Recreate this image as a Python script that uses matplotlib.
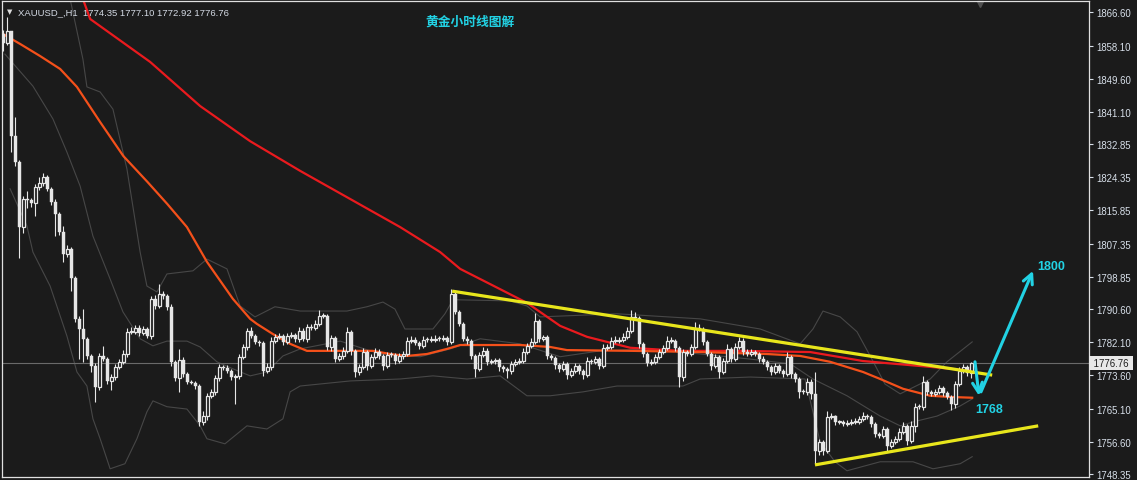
import numpy as np
import matplotlib
matplotlib.use('Agg')
import matplotlib.pyplot as plt
from matplotlib.transforms import blended_transform_factory

# ---- data (XAUUSD H1) ----
first_open = 1861.0
closes = [
    1858.7, 1861.8, 1834.9, 1828.3, 1811.6, 1818.8, 1818.5, 1817.8, 1821.9, 1822.9,
    1824.4, 1821.4, 1818.0, 1815.0, 1810.4, 1804.7, 1806.0, 1798.6, 1788.1, 1785.5,
    1783.0, 1778.6, 1776.0, 1770.7, 1778.6, 1777.8, 1772.2, 1773.2, 1775.8, 1777.1,
    1779.1, 1784.8, 1784.8, 1785.8, 1784.5, 1785.5, 1783.7, 1793.2, 1791.4, 1794.5,
    1794.0, 1791.2, 1777.1, 1773.0, 1777.6, 1774.0, 1772.0, 1771.8, 1770.9, 1761.7,
    1763.2, 1768.4, 1769.4, 1773.0, 1775.8, 1775.6, 1774.8, 1773.2, 1773.5, 1778.4,
    1780.9, 1785.0, 1783.7, 1782.2, 1782.0, 1774.8, 1775.8, 1782.4, 1783.5, 1783.7,
    1782.2, 1783.7, 1784.0, 1783.0, 1785.0, 1783.0, 1786.0, 1785.8, 1786.8, 1788.8,
    1788.9, 1780.9, 1783.2, 1777.8, 1778.6, 1779.9, 1784.8, 1779.9, 1774.5, 1775.8,
    1779.6, 1776.0, 1778.4, 1779.6, 1778.6, 1776.0, 1778.9, 1778.8, 1777.3, 1778.6,
    1779.1, 1782.4, 1782.7, 1781.9, 1781.2, 1782.7, 1782.6, 1782.8, 1783.0, 1782.9,
    1783.1, 1782.2, 1794.5, 1789.9, 1786.8, 1783.0, 1782.4, 1778.6, 1775.3, 1778.9,
    1779.9, 1777.1, 1777.3, 1777.6, 1775.8, 1775.3, 1774.8, 1776.6, 1777.1, 1777.3,
    1779.6, 1781.2, 1782.2, 1787.6, 1783.0, 1783.5, 1778.6, 1778.1, 1776.3, 1775.3,
    1776.6, 1773.7, 1774.8, 1776.0, 1774.8, 1773.7, 1777.3, 1777.1, 1777.8, 1776.0,
    1780.7, 1780.9, 1782.4, 1782.5, 1782.7, 1783.5, 1785.0, 1788.6, 1788.3, 1781.7,
    1779.1, 1776.8, 1777.1, 1778.4, 1779.6, 1780.7, 1782.4, 1782.5, 1780.7, 1773.2,
    1779.6, 1779.1, 1780.9, 1785.8, 1785.5, 1782.2, 1779.1, 1776.0, 1778.4, 1774.5,
    1777.3, 1780.4, 1777.8, 1780.9, 1782.4, 1779.6, 1779.1, 1779.6, 1779.1, 1777.8,
    1777.1, 1775.8, 1774.5, 1776.0, 1774.8, 1774.0, 1778.4, 1774.0, 1772.7, 1769.4,
    1769.3, 1772.0, 1768.9, 1754.3, 1756.6, 1754.3, 1763.0, 1763.1, 1761.7, 1761.8,
    1761.2, 1761.5, 1761.7, 1761.8, 1762.5, 1763.2, 1763.0, 1761.2, 1758.6, 1758.1,
    1759.9, 1755.6, 1756.6, 1757.4, 1759.2, 1760.7, 1756.8, 1760.7, 1765.6, 1765.5,
    1772.0, 1769.4, 1768.9, 1769.4, 1770.4, 1769.1, 1768.1, 1766.3, 1771.4, 1774.8,
    1775.8, 1774.35, 1776.76]

upper_wick = [
    1.0, 3.6, 0.0, 5.0, 0.5, 0.8, 2.0, 0.5, 0.8, 1.5,
    1.0, 0.5, 0.5, 0.8, 0.5, 1.5, 1.0, 0.5, 0.5, 0.8,
    5.0, 0.5, 0.5, 0.8, 0.8, 2.5, 0.5, 0.8, 0.8, 0.8,
    1.0, 1.0, 1.2, 0.8, 0.8, 0.8, 0.5, 0.8, 1.0, 2.6,
    0.8, 0.5, 0.8, 0.5, 2.8, 0.8, 0.5, 0.5, 0.5, 0.5,
    1.2, 0.8, 0.8, 0.8, 0.8, 0.5, 0.8, 0.5, 0.5, 0.8,
    0.8, 0.8, 1.0, 0.5, 0.5, 0.5, 1.0, 1.0, 0.8, 0.8,
    0.5, 0.8, 0.8, 0.5, 1.0, 0.8, 0.8, 0.8, 1.0, 1.5,
    0.8, 0.5, 0.8, 0.5, 0.8, 1.0, 1.2, 0.5, 0.5, 0.8,
    1.0, 0.5, 0.8, 1.0, 0.8, 0.5, 0.8, 0.8, 0.5, 0.8,
    0.8, 1.0, 1.0, 0.8, 0.5, 1.0, 0.8, 0.8, 1.0, 0.8,
    0.8, 0.5, 1.3, 0.5, 0.5, 0.5, 0.8, 0.5, 0.5, 0.8,
    1.0, 0.8, 0.5, 0.5, 0.5, 0.5, 0.5, 0.8, 0.8, 0.8,
    1.0, 0.8, 1.0, 2.0, 0.5, 0.5, 0.5, 0.5, 0.5, 0.5,
    0.8, 0.5, 0.8, 0.8, 0.5, 0.5, 1.0, 0.5, 0.8, 0.5,
    1.0, 0.8, 1.0, 1.2, 0.8, 1.0, 1.0, 1.8, 1.2, 0.5,
    0.5, 0.5, 0.8, 0.8, 0.8, 0.8, 1.2, 1.0, 0.5, 0.5,
    0.8, 0.5, 0.8, 1.5, 1.0, 0.5, 0.5, 0.5, 0.8, 0.5,
    0.8, 1.2, 0.5, 1.0, 1.0, 0.8, 0.8, 0.8, 0.5, 0.5,
    0.8, 0.5, 0.5, 0.8, 0.5, 0.5, 1.2, 0.5, 0.5, 0.5,
    0.8, 1.0, 0.8, 5.6, 0.8, 0.5, 1.5, 0.8, 0.5, 0.5,
    0.5, 0.8, 0.8, 0.8, 0.8, 1.0, 0.5, 0.5, 0.5, 0.5,
    0.8, 0.5, 0.8, 0.8, 1.0, 1.0, 0.5, 1.2, 1.0, 0.8,
    1.5, 0.5, 0.5, 0.8, 0.8, 0.5, 0.5, 0.5, 0.8, 1.0,
    0.8, 0.5, 0.34]

lower_wick = [
    2.0, 0.5, 4.0, 1.0, 8.0, 1.5, 2.0, 1.0, 3.3, 0.8,
    0.8, 0.5, 0.8, 5.6, 0.8, 2.0, 0.8, 3.3, 0.8, 7.7,
    6.0, 0.8, 1.5, 3.8, 0.8, 0.5, 0.8, 2.3, 0.8, 0.5,
    0.5, 0.8, 0.5, 0.5, 0.8, 0.5, 0.5, 0.8, 0.8, 0.5,
    0.8, 0.8, 1.0, 0.8, 3.6, 0.8, 0.5, 0.5, 0.8, 1.0,
    0.8, 1.0, 0.5, 0.8, 0.8, 0.5, 0.5, 0.8, 7.0, 0.8,
    0.5, 0.8, 0.5, 0.5, 0.8, 1.3, 0.5, 0.8, 0.5, 0.5,
    0.8, 0.5, 0.5, 0.8, 0.8, 0.5, 0.8, 0.5, 0.5, 0.5,
    0.5, 0.8, 1.0, 0.8, 0.5, 0.8, 0.5, 1.0, 1.3, 0.8,
    0.5, 1.0, 0.5, 0.5, 0.8, 1.0, 0.5, 0.5, 0.8, 0.5,
    0.8, 0.5, 0.5, 0.5, 0.8, 0.5, 0.5, 0.5, 0.5, 0.5,
    0.5, 0.8, 0.5, 0.5, 0.5, 0.5, 0.8, 0.8, 2.0, 0.5,
    0.5, 0.8, 0.5, 0.8, 1.0, 0.8, 1.8, 0.8, 0.5, 0.5,
    0.5, 0.5, 0.5, 0.5, 0.8, 0.5, 0.8, 0.5, 1.0, 0.8,
    0.5, 1.0, 0.5, 0.5, 0.8, 1.0, 0.5, 0.5, 0.5, 0.8,
    0.5, 0.5, 0.5, 0.5, 0.5, 0.5, 0.5, 0.5, 0.5, 1.0,
    0.8, 0.8, 0.5, 0.5, 0.5, 0.5, 0.5, 0.5, 0.8, 2.6,
    1.0, 0.5, 0.5, 0.5, 0.5, 0.8, 0.5, 1.0, 0.5, 1.5,
    0.5, 0.5, 0.8, 0.5, 0.5, 0.8, 0.5, 0.5, 0.5, 0.8,
    0.5, 0.8, 0.8, 0.5, 0.5, 0.8, 0.5, 1.0, 0.8, 1.5,
    0.5, 0.8, 1.2, 3.3, 1.0, 1.0, 0.5, 0.5, 0.8, 0.5,
    0.5, 0.5, 0.5, 0.5, 0.5, 0.5, 0.5, 0.8, 0.8, 0.5,
    0.5, 1.5, 0.5, 0.5, 0.5, 0.5, 1.0, 0.5, 1.5, 0.5,
    0.8, 0.8, 0.5, 0.5, 0.5, 0.8, 0.5, 1.5, 1.0, 0.5,
    0.5, 0.8, 1.43]

# indicator lines, sampled at (bar index, price)
ma_slow_x = [19.9, 21.7, 36.7, 49.2, 61.7, 74.2, 86.7, 99.2, 109.2, 114.2, 121.7, 130.9,
             139.2, 145.9, 156.7, 169.2, 184.2, 201.7, 214.9, 231.7, 242.2]
ma_slow_y = [1870.0, 1864.9, 1853.9, 1842.6, 1833.6, 1826.0, 1818.8, 1811.6, 1805.2, 1800.9,
             1797.0, 1792.2, 1786.3, 1783.5, 1780.7, 1779.9, 1779.9, 1779.6, 1777.3, 1775.8, 1774.8]

ma_fast_x = [0.0, 4.2, 9.2, 14.2, 18.4, 24.2, 30.0, 36.0, 41.0, 45.9, 50.9, 57.4, 61.7, 63.4,
             67.4, 71.7, 75.9, 84.2, 92.4, 96.7, 100.9, 105.9, 110.9, 114.2, 121.7, 129.2,
             136.7, 140.9, 157.4, 174.2, 190.9, 199.2, 206.7, 214.9, 219.2, 224.9, 231.7,
             236.7, 242.2]
ma_fast_y = [1861.0, 1858.5, 1855.4, 1852.1, 1847.5, 1838.5, 1829.8, 1823.2, 1817.5, 1811.6,
             1802.7, 1793.2, 1788.1, 1786.8, 1784.2, 1781.7, 1779.9, 1779.9, 1779.9, 1779.1,
             1778.6, 1779.1, 1780.4, 1781.4, 1781.4, 1781.4, 1780.9, 1780.1, 1779.9, 1779.6,
             1779.1, 1778.6, 1777.1, 1774.5, 1772.7, 1770.2, 1768.4, 1768.1, 1767.9]

bb_up_x = [16.7, 19.9, 20.9, 24.2, 27.4, 30.9, 34.2, 35.9, 38.4, 40.9, 47.4, 50.9, 55.9, 59.2,
           62.9, 67.9, 74.2, 85.9, 90.9, 94.9, 97.9, 100.4, 107.4, 110.4, 112.4, 126.7, 130.9,
           134.2, 153.4, 174.2, 189.2, 199.2, 202.4, 204.9, 209.2, 213.4, 216.7, 220.4, 224.2,
           231.7, 235.9, 242.2]
bb_up_y = [1870.0, 1854.6, 1847.5, 1846.2, 1841.8, 1826.5, 1805.2, 1796.5, 1795.0, 1799.6,
           1800.4, 1803.4, 1800.9, 1791.4, 1788.6, 1791.2, 1790.1, 1790.1, 1791.2, 1792.4,
           1790.6, 1785.5, 1785.5, 1789.4, 1793.0, 1792.7, 1791.4, 1788.6, 1789.4, 1788.1,
           1785.5, 1781.7, 1785.5, 1790.1, 1788.6, 1784.8, 1778.6, 1771.4, 1768.9, 1772.7,
           1777.1, 1782.2]

bb_mid_x = [0.4, 7.4, 12.4, 15.9, 19.2, 22.4, 26.7, 29.9, 34.2, 37.4, 40.9, 45.9, 49.2, 53.4,
            57.4, 61.7, 65.9, 69.9, 74.2, 84.2, 94.2, 104.2, 111.7, 119.2, 129.2, 139.2, 149.2,
            161.7, 174.2, 186.7, 196.7, 202.4, 210.9, 219.2, 224.2, 227.4, 233.4, 239.2, 242.2]
bb_mid_y = [1855.9, 1847.7, 1839.3, 1830.8, 1822.1, 1809.3, 1798.3, 1789.9, 1783.0, 1781.2,
            1782.4, 1782.4, 1780.9, 1777.1, 1775.3, 1773.5, 1774.5, 1778.6, 1780.4, 1782.4,
            1779.1, 1778.4, 1780.4, 1783.0, 1781.7, 1778.4, 1779.9, 1780.4, 1779.1, 1777.8,
            1776.6, 1772.7, 1768.4, 1763.2, 1760.7, 1761.7, 1763.2, 1765.8, 1767.6]

bb_low_x = [1.7, 5.9, 7.4, 11.7, 15.9, 18.4, 20.9, 22.4, 24.2, 26.7, 30.4, 33.4, 35.9, 37.4,
            40.9, 45.9, 49.2, 50.9, 55.4, 60.9, 65.9, 69.9, 71.7, 74.2, 86.7, 99.2, 107.4, 115.9,
            124.2, 130.9, 136.7, 144.9, 153.4, 169.9, 174.2, 186.7, 200.4, 204.2, 207.9, 210.9,
            219.2, 227.4, 232.4, 239.2, 242.2]
bb_low_y = [1821.4, 1811.9, 1805.2, 1796.5, 1783.7, 1774.5, 1770.9, 1762.5, 1757.4, 1749.7,
            1751.0, 1757.4, 1764.3, 1767.1, 1765.6, 1765.0, 1760.7, 1757.4, 1756.1, 1760.7,
            1759.9, 1762.5, 1769.4, 1770.9, 1772.2, 1772.7, 1773.5, 1772.7, 1773.5, 1768.4,
            1768.4, 1769.4, 1770.9, 1770.9, 1772.7, 1773.2, 1772.7, 1756.6, 1751.5, 1749.2,
            1751.5, 1751.5, 1749.7, 1751.0, 1752.8]

# hand-drawn trend lines and arrows (bar index, price)
trend_top = [(112.2, 1795.2), (247.2, 1773.7)]
trend_bottom = [(202.9, 1750.7), (258.7, 1760.7)]
arrow_down = [(242.9, 1777.1), (243.9, 1768.4)]
arrow_up = [(244.4, 1769.4), (257.4, 1800.4)]
target_up = (258.4, 1801.6, '1800')
target_down = (242.9, 1765.0, '1768')

ytick_vals = [1866.60, 1858.10, 1849.60, 1841.10, 1832.85, 1824.35, 1815.85, 1807.35,
              1798.85, 1790.60, 1782.10, 1773.60, 1765.10, 1756.60, 1748.35]
ohlc_text = 'XAUUSD_,H1  1774.35 1777.10 1772.92 1776.76'
title_text = '黄金小时线图解'

assert len(closes) == len(upper_wick) == len(lower_wick)

BG = '#1b1b1b'
CANDLE = '#e6e6e6'
CYAN = '#22d2e4'

opens = np.array([first_open] + closes[:-1])
closes = np.array(closes)
highs = np.maximum(opens, closes) + np.array(upper_wick)
lows = np.minimum(opens, closes) - np.array(lower_wick)
idx = np.arange(len(closes))

fig = plt.figure(figsize=(11.37, 4.81), dpi=100, facecolor=BG)
ax = fig.add_axes([2 / 1137, 3 / 481, 1087 / 1137, 476 / 481])
ax.set_facecolor(BG)
ax.set_xlim(-0.33, 271.4)
ax.set_ylim(1747.6, 1869.5)

# bollinger bands
for bx, by in [(bb_up_x, bb_up_y), (bb_mid_x, bb_mid_y), (bb_low_x, bb_low_y)]:
    ax.plot(bx, by, color='#474747', lw=0.8, zorder=1)

# current price line
ax.axhline(closes[-1], color='#6a6a6a', lw=0.8, zorder=1)

# moving averages
ax.plot(ma_slow_x, ma_slow_y, color='#ea1a1e', lw=1.6, zorder=2)
ax.plot(ma_fast_x, ma_fast_y, color='#f4501a', lw=1.6, zorder=2)

# candles
ax.vlines(idx, lows, highs, color=CANDLE, lw=0.8, zorder=3)
bull = closes >= opens
body_lo = np.minimum(opens, closes)
body_h = np.maximum(np.abs(closes - opens), 0.25)
ax.bar(idx[bull], body_h[bull], bottom=body_lo[bull], width=0.68,
       facecolor=BG, edgecolor=CANDLE, linewidth=0.9, zorder=4)
ax.bar(idx[~bull], body_h[~bull], bottom=body_lo[~bull], width=0.82,
       facecolor=CANDLE, edgecolor=CANDLE, linewidth=0.3, zorder=4)

# trend lines
for pts in (trend_top, trend_bottom):
    ax.plot([p[0] for p in pts], [p[1] for p in pts], color='#e8e61c', lw=2.3,
            solid_capstyle='butt', zorder=5)

# arrows
for pts in (arrow_down, arrow_up):
    ax.annotate('', xy=pts[1], xytext=pts[0],
                arrowprops=dict(arrowstyle='->,head_length=0.7,head_width=0.35',
                                color=CYAN, lw=2.2, shrinkA=0, shrinkB=0), zorder=6)
for tx, ty, s in (target_up, target_down):
    ax.text(tx, ty, s, color=CYAN, fontsize=9, fontweight='bold',
            family='Liberation Sans', ha='left', va='center', zorder=6)

# right price axis
ax.yaxis.tick_right()
ax.set_yticks(ytick_vals)
ax.set_yticklabels(['%.2f' % v for v in ytick_vals])
ax.tick_params(axis='y', colors='#d8e0ea', labelsize=6.9, length=3, width=0.8, pad=2)
for lab in ax.get_yticklabels():
    lab.set_family('Liberation Sans')
ax.set_xticks([])
for sp in ax.spines.values():
    sp.set_color('#e0e0e0')
    sp.set_linewidth(0.9)

# current price tag
tr = blended_transform_factory(ax.transAxes, ax.transData)
ax.text(1.0015, closes[-1], ' %.2f ' % closes[-1], transform=tr, ha='left', va='center',
        fontsize=6.9, family='Liberation Sans', color='#1b1b1b', clip_on=False,
        bbox=dict(boxstyle='square,pad=0.2', facecolor='#e8e8e8', edgecolor='none'))

# header texts
ax.text(0.0045, 0.985, '\u25bc', transform=ax.transAxes, color='#dcdcdc', fontsize=5,
        family='DejaVu Sans', ha='left', va='top')
ax.text(0.0145, 0.988, ohlc_text, transform=ax.transAxes, color='#d4dae4', fontsize=6.8,
        family='Liberation Sans', ha='left', va='top')
ax.text(0.431, 0.972, title_text, transform=ax.transAxes, color=CYAN, fontsize=9.2,
        fontweight='bold', family=['Noto Sans CJK SC', 'DejaVu Sans'], ha='center', va='top')
ax.plot([0.9, ], [0.993], transform=ax.transAxes, marker='v', color='#505050',
        markersize=5, clip_on=False)

fig.savefig('out.png', dpi=100, facecolor=BG)
